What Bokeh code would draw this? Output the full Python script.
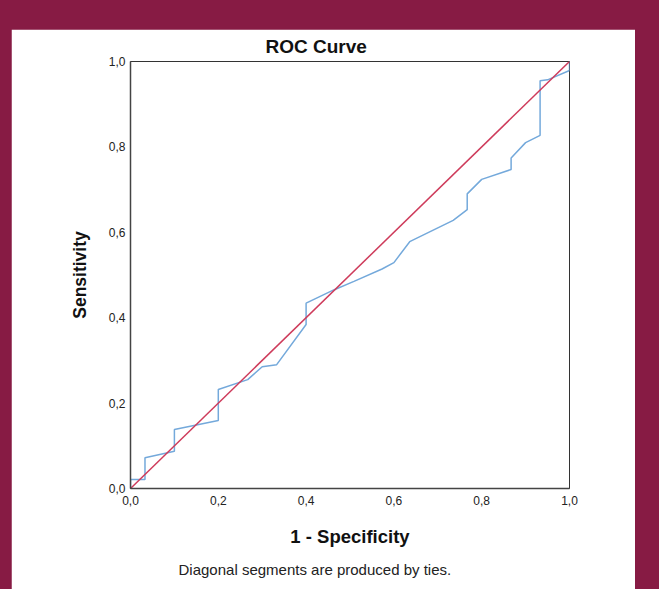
from bokeh.plotting import figure
from bokeh.layouts import column
from bokeh.models import Range1d, CustomJSTickFormatter, FixedTicker, Title
from bokeh.embed import file_html
from bokeh.resources import INLINE

# ---- data ----
fpr = [0.0, 0.0, 0.033, 0.033, 0.1, 0.1, 0.2, 0.2, 0.267, 0.3, 0.333, 0.4, 0.4,
       0.463, 0.509, 0.573, 0.6, 0.636, 0.735, 0.767, 0.767, 0.8, 0.867, 0.867,
       0.9, 0.933, 0.933, 0.95, 1.0, 1.0]
tpr = [0.0, 0.021, 0.021, 0.072, 0.087, 0.138, 0.159, 0.232, 0.255, 0.285, 0.29, 0.384, 0.434,
       0.465, 0.485, 0.514, 0.529, 0.578, 0.628, 0.653, 0.69, 0.724, 0.747, 0.774,
       0.81, 0.827, 0.955, 0.957, 0.979, 1.0]
ref_x = [0.0, 1.0]
ref_y = [0.0, 1.0]
ticks = [0.0, 0.2, 0.4, 0.6, 0.8, 1.0]
title_text = "ROC Curve"
x_label = "1 - Specificity"
y_label = "Sensitivity"
footnote = "Diagonal segments are produced by ties."

MAROON = "#871B44"
FONT = "Liberation Sans"

W, H = 624, 560
p = figure(width=W, height=H, output_backend="svg", toolbar_location=None,
           x_range=Range1d(0, 1), y_range=Range1d(0, 1),
           min_border_left=119, min_border_right=66, min_border_top=32, min_border_bottom=101)
p.border_fill_color = "white"
p.background_fill_color = "white"
p.outline_line_color = "#333333"
p.outline_line_width = 1
p.grid.visible = False

fmt = CustomJSTickFormatter(code="return tick.toFixed(1).replace('.', ',');")
for ax in (p.xaxis[0], p.yaxis[0]):
    ax.ticker = FixedTicker(ticks=ticks)
    ax.formatter = fmt
    ax.major_tick_line_color = None
    ax.minor_tick_line_color = None
    ax.major_tick_out = 0
    ax.major_tick_in = 0
    ax.minor_tick_out = 0
    ax.minor_tick_in = 0
    ax.axis_line_color = "#444444"
    ax.axis_line_width = 1.5
    ax.major_label_text_font = FONT
    ax.major_label_text_font_size = "12px"
    ax.major_label_text_color = "#222222"
    ax.axis_label_text_font = FONT
    ax.axis_label_text_font_style = "bold"
    ax.axis_label_text_color = "#111111"

p.xaxis.axis_label = x_label
p.yaxis.axis_label = y_label
p.xaxis.axis_label_text_font_size = "18.5px"
p.yaxis.axis_label_text_font_size = "17.5px"
p.xaxis.major_label_standoff = 7
p.yaxis.major_label_standoff = 5
p.xaxis.axis_label_standoff = 18
p.yaxis.axis_label_standoff = 16

p.title.text = title_text
p.title.align = "left"
p.title.offset = 135
p.title.text_font = FONT
p.title.text_font_size = "19px"
p.title.text_font_style = "bold"
p.title.text_color = "#111111"
p.title.standoff = 9

p.line(fpr, tpr, line_color="#74A9DB", line_width=1.5)
p.line(ref_x, ref_y, line_color="#CE3B5B", line_width=1.5)

note = Title(text=footnote, align="left", offset=48, text_font=FONT,
             text_font_size="15px", text_font_style="normal", text_color="#222222",
             standoff=19)
p.add_layout(note, "below")

page = column(p, styles={"background-color": MAROON,
                         "padding": "29px 24px 0px 11px"})

open("out.html", "w").write(file_html(page, INLINE))
